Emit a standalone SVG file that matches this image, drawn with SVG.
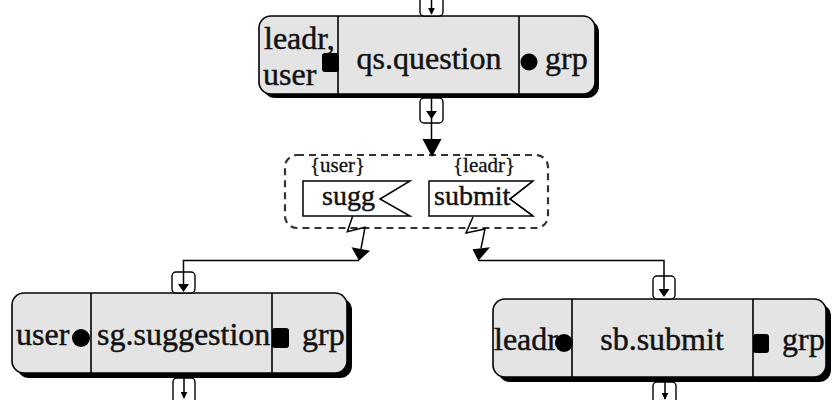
<svg xmlns="http://www.w3.org/2000/svg" width="832" height="400" viewBox="0 0 832 400">
  <style>
    .shadow { fill: #000; }
    .body { fill: #e4e4e4; stroke: #000; stroke-width: 1.6; }
    .div { stroke: #000; stroke-width: 1.6; }
    text { font-family: "Liberation Serif", "Times New Roman", serif; fill: #111; stroke: #111; stroke-width: 0.45; }
    .lbl { font-size: 32px; }
    .small { font-size: 21px; stroke-width: 0.3; }
    .flagtxt { font-size: 28px; }
    .port { fill: #fff; stroke: #000; stroke-width: 1.4; }
    .pin { fill: #000; }
    .wire { fill: none; stroke: #000; stroke-width: 1.5; }
    .flag { fill: #fff; stroke: #000; stroke-width: 1.5; }
    .group { fill: none; stroke: #333; stroke-width: 2.2; stroke-dasharray: 7 5; }
  </style>
  <defs>
    <marker id="tip" viewBox="0 0 10 10" refX="9" refY="5" markerWidth="7" markerHeight="7" orient="auto" markerUnits="userSpaceOnUse">
      <path d="M0,0 L10,5 L0,10 Z" fill="#000"/>
    </marker>
  </defs>

  <!-- qs.question -->
  <g id="qs-question">
    <rect class="shadow" x="263" y="20" width="336" height="78" rx="12"/>
    <rect class="body" x="259" y="16" width="336" height="78" rx="12"/>
    <line class="div" x1="338" y1="16" x2="338" y2="94"/>
    <line class="div" x1="519" y1="16" x2="519" y2="94"/>
    <text class="lbl" x="264" y="49" font-family="Liberation Serif, serif">leadr,</text>
    <text class="lbl" x="263" y="85" font-family="Liberation Serif, serif">user</text>
    <text class="lbl" x="429" y="69" text-anchor="middle" font-family="Liberation Serif, serif">qs.question</text>
    <text class="lbl" x="545" y="69" font-family="Liberation Serif, serif">grp</text>
    <rect class="pin" x="322" y="53" width="17" height="19" rx="3"/>
    <circle class="pin" cx="529" cy="62" r="8.5"/>
    <rect class="port" x="420" y="-8" width="23" height="24" rx="4"/>
    <line class="wire" x1="431.5" y1="-8" x2="431.5" y2="14" marker-end="url(#tip)"/>
    <rect class="port" x="420" y="98" width="23" height="25" rx="4"/>
  </g>

  <!-- sg.suggestion -->
  <g id="sg-suggestion">
    <rect class="shadow" x="17" y="298" width="335" height="80" rx="12"/>
    <rect class="body" x="12" y="293" width="335" height="80" rx="12"/>
    <line class="div" x1="91" y1="293" x2="91" y2="373"/>
    <line class="div" x1="272" y1="293" x2="272" y2="373"/>
    <text class="lbl" x="16" y="345">user</text>
    <text class="lbl" x="97" y="345">sg.suggestion</text>
    <text class="lbl" x="302" y="345">grp</text>
    <circle class="pin" cx="81" cy="338" r="9"/>
    <rect class="pin" x="272" y="328" width="17" height="20" rx="3"/>
    <rect class="port" x="172" y="272" width="23" height="21" rx="4"/>
    <rect class="port" x="173" y="378" width="22" height="30" rx="4"/>
    <line class="wire" x1="184" y1="378" x2="184" y2="398" marker-end="url(#tip)"/>
  </g>

  <!-- sb.submit -->
  <g id="sb-submit">
    <rect class="shadow" x="498" y="304" width="333" height="78" rx="12"/>
    <rect class="body" x="493" y="299" width="333" height="78" rx="12"/>
    <line class="div" x1="572" y1="299" x2="572" y2="377"/>
    <line class="div" x1="753" y1="299" x2="753" y2="377"/>
    <text class="lbl" x="494" y="350">leadr</text>
    <text class="lbl" x="662" y="350" text-anchor="middle">sb.submit</text>
    <text class="lbl" x="782" y="350">grp</text>
    <circle class="pin" cx="564" cy="343" r="9"/>
    <rect class="pin" x="753" y="334" width="16" height="19" rx="3"/>
    <rect class="port" x="653" y="276" width="22" height="23" rx="4"/>
    <rect class="port" x="653" y="382" width="23" height="30" rx="4"/>
    <line class="wire" x1="665" y1="382" x2="665" y2="399" marker-end="url(#tip)"/>
  </g>

  <!-- event group with the two signals -->
  <g id="signals">
    <rect class="group" x="285" y="155" width="263" height="73" rx="12"/>
    <g id="sugg">
      <text class="small" x="310" y="172">{user}</text>
      <polygon class="flag" points="303,181 410,181 380,199 410,216 303,216"/>
      <text class="flagtxt" x="322" y="205">sugg</text>
    </g>
    <g id="submit">
      <text class="small" x="453" y="172">{leadr}</text>
      <polygon class="flag" points="429,181 533,181 510,199 533,216 429,216"/>
      <text class="flagtxt" x="434" y="205">submit</text>
      <polyline class="wire" points="533,181 510,199 533,216"/>
    </g>
  </g>

  <!-- connectors -->
  <g id="connectors">
    <!-- qs.question to the signal group -->
    <line class="wire" x1="431.5" y1="98" x2="431.5" y2="141"/>
    <path d="M426,111 L437,111 L431.5,119 Z" fill="#000"/>
    <polygon points="422.5,139 441.5,139 432,157" fill="#000"/>
    <!-- sugg to sg.suggestion -->
    <polyline class="wire" points="352.7,216 347.3,231.7 365,227.3 361,249"/>
    <polygon points="351.5,247.3 370,250.7 359,260.7" fill="#000"/>
    <polyline class="wire" points="359,260.5 183.5,260.5 183.5,285"/>
    <path d="M178,284 L189,284 L183.5,292 Z" fill="#000"/>
    <!-- submit to sb.submit -->
    <polyline class="wire" points="473,217 466,233 485,229 481,248"/>
    <polygon points="472.5,249.3 490,247.3 478.3,260.7" fill="#000"/>
    <polyline class="wire" points="478.3,260.5 664,260.5 664,290"/>
    <path d="M658.5,289 L669.5,289 L664,297 Z" fill="#000"/>
  </g>
</svg>
